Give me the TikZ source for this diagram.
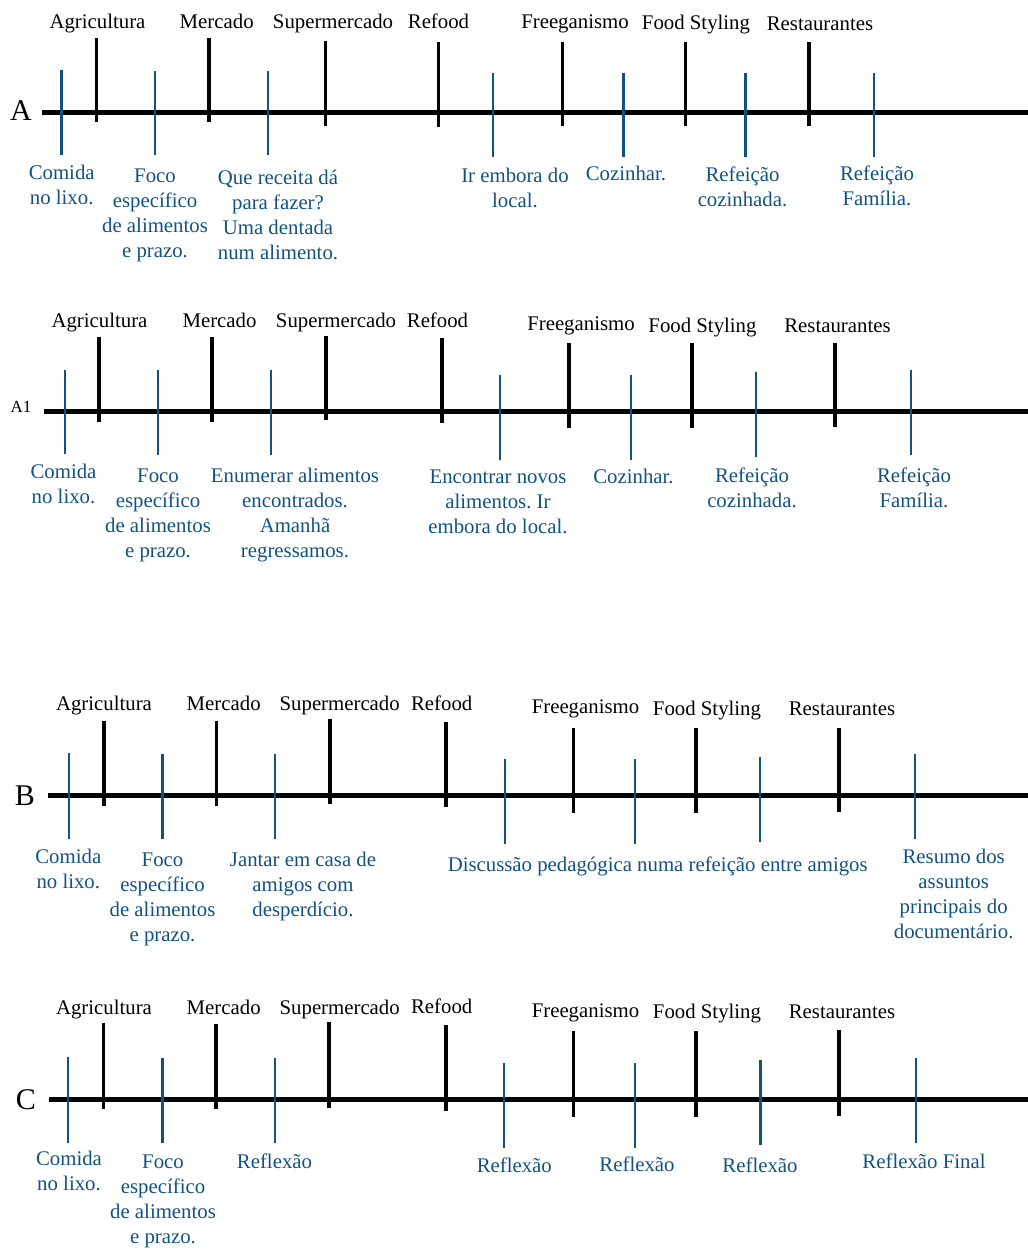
\documentclass[tikz,border=0pt]{standalone}
\usepackage{fontspec}
\setmainfont{Liberation Serif}
\definecolor{tblue}{RGB}{18,82,130}
\frenchspacing
\begin{document}
\begin{tikzpicture}[x=1pt,y=-1pt,
  mainline/.style={line width=5pt,black},
  blacktick/.style={line width=3.1pt,black},
  bluetick/.style={line width=2.9pt,tblue},
  toplab/.style={font=\fontsize{20.8}{25}\selectfont,anchor=base,inner sep=0pt,text=black},
  botlab/.style={font=\fontsize{20.8}{25}\selectfont,anchor=base,inner sep=0pt,text=tblue,align=center},
  rowlab/.style={font=\fontsize{30}{30}\selectfont,anchor=center,inner sep=0pt}]
\useasboundingbox (0,0) rectangle (1028,1251);
% note: for multi-line labels the base anchor is the baseline of the last line

% ===================== A =====================
\node[rowlab] (labA) at (21,111) {A};
\coordinate (A0) at (42,112);
\coordinate (A1e) at (1028,112);
\draw[mainline] (A0) -- (A1e);
\foreach \x/\t/\b in {96.7/38/122, 209/38/122, 325.7/41/126, 438.7/42/127, 562.6/42/126, 685.6/42/126, 809/42/126}
  \draw[blacktick] (\x,\t) -- (\x,\b);
\foreach \x/\t/\b in {61.7/70/155, 155/71/155, 268/71/155, 493/73/157, 623.7/73/157, 745.6/73/157, 874/73/157}
  \draw[bluetick] (\x,\t) -- (\x,\b);
\node[toplab] (a-agr) at (97.5,28) {Agricultura};
\node[toplab] (a-mer) at (216.7,28) {Mercado};
\node[toplab] (a-sup) at (333,28) {Supermercado};
\node[toplab] (a-ref) at (438.5,28) {Refood};
\node[toplab] (a-fre) at (575,28) {Freeganismo};
\node[toplab] (a-fst) at (696,29) {Food Styling};
\node[toplab] (a-res) at (820,30) {Restaurantes};
\node[botlab] (a-b1) at (61.7,204) {Comida\\no lixo.};
\node[botlab] (a-b2) at (155,257) {Foco\\específico\\de alimentos\\e prazo.};
\node[botlab] (a-b3) at (278,259) {Que receita dá\\para fazer?\\Uma dentada\\num alimento.};
\node[botlab] (a-b4) at (515,207) {Ir embora do\\local.};
\node[botlab] (a-b5) at (626,180) {Cozinhar.};
\node[botlab] (a-b6) at (742.5,206) {Refeição\\cozinhada.};
\node[botlab] (a-b7) at (877,205) {Refeição\\Família.};

% ===================== A1 =====================
\node[font=\fontsize{17}{17}\selectfont,anchor=base,inner sep=0pt] (labA1) at (21,412) {A1};
\coordinate (B0) at (44,411);
\coordinate (B1e) at (1028,411);
\draw[mainline] (B0) -- (B1e);
\foreach \x/\t/\b in {99/337/422, 212/337/422, 326/336/420, 442/338/423, 569/343/428, 692/343/428, 835/343/427}
  \draw[blacktick] (\x,\t) -- (\x,\b);
\foreach \x/\t/\b in {65/370/454, 158/370/455, 271/370/455, 500/375/460, 631/375/460, 756/372/457, 911/370/455}
  \draw[bluetick] (\x,\t) -- (\x,\b);
\node[toplab] (b-agr) at (99.5,327) {Agricultura};
\node[toplab] (b-mer) at (219.5,327) {Mercado};
\node[toplab] (b-sup) at (336,327) {Supermercado};
\node[toplab] (b-ref) at (437.5,327) {Refood};
\node[toplab] (b-fre) at (581,330) {Freeganismo};
\node[toplab] (b-fst) at (702.5,332) {Food Styling};
\node[toplab] (b-res) at (837.5,332) {Restaurantes};
\node[botlab] (b-b1) at (63.5,503) {Comida\\no lixo.};
\node[botlab] (b-b2) at (158,557) {Foco\\específico\\de alimentos\\e prazo.};
\node[botlab] (b-b3) at (295,557) {Enumerar alimentos\\encontrados.\\Amanhã\\regressamos.};
\node[botlab] (b-b4) at (498,533) {Encontrar novos\\alimentos. Ir\\embora do local.};
\node[botlab] (b-b5) at (633.5,483) {Cozinhar.};
\node[botlab] (b-b6) at (752,507) {Refeição\\cozinhada.};
\node[botlab] (b-b7) at (914,507) {Refeição\\Família.};

% ===================== B =====================
\node[rowlab] (labB) at (25,796) {B};
\coordinate (C0) at (48,795);
\coordinate (C1e) at (1028,795);
\draw[mainline] (C0) -- (C1e);
\foreach \x/\t/\b in {104/721/806, 216.7/721/806, 330/719/804, 446/722/807, 573.4/728/813, 696/728/813, 839/728/812}
  \draw[blacktick] (\x,\t) -- (\x,\b);
\foreach \x/\t/\b in {69/753/839, 162.7/754/839, 275/754/839, 505/759/844, 635/759/844, 760/757/842, 915/754/839}
  \draw[bluetick] (\x,\t) -- (\x,\b);
\node[toplab] (c-agr) at (104,710) {Agricultura};
\node[toplab] (c-mer) at (223.7,710) {Mercado};
\node[toplab] (c-sup) at (339.7,710) {Supermercado};
\node[toplab] (c-ref) at (441.7,710) {Refood};
\node[toplab] (c-fre) at (585.5,713) {Freeganismo};
\node[toplab] (c-fst) at (707,715) {Food Styling};
\node[toplab] (c-res) at (842,715) {Restaurantes};
\node[botlab] (c-b1) at (68.3,888) {Comida\\no lixo.};
\node[botlab] (c-b2) at (162.5,941) {Foco\\específico\\de alimentos\\e prazo.};
\node[botlab] (c-b3) at (303,916) {Jantar em casa de\\amigos com\\desperdício.};
\node[botlab] (c-b4) at (657.7,871) {Discussão pedagógica numa refeição entre amigos};
\node[botlab] (c-b5) at (953.7,938) {Resumo dos\\assuntos\\principais do\\documentário.};

% ===================== C =====================
\node[rowlab] (labC) at (26,1100) {C};
\coordinate (D0) at (49,1099);
\coordinate (D1e) at (1028,1099);
\draw[mainline] (D0) -- (D1e);
\foreach \x/\t/\b in {103.6/1023/1109, 216/1024/1109, 329/1022/1108, 446/1025/1111, 573.8/1031/1117, 696/1031/1117, 839/1030/1116}
  \draw[blacktick] (\x,\t) -- (\x,\b);
\foreach \x/\t/\b in {68/1057/1143, 162.6/1058/1143, 275/1058/1143, 504/1063/1148, 635/1063/1148, 760.7/1060/1145, 916/1058/1143}
  \draw[bluetick] (\x,\t) -- (\x,\b);
\node[toplab] (d-agr) at (104,1014) {Agricultura};
\node[toplab] (d-mer) at (223.7,1014) {Mercado};
\node[toplab] (d-sup) at (339.7,1014) {Supermercado};
\node[toplab] (d-ref) at (441.7,1013) {Refood};
\node[toplab] (d-fre) at (585.5,1017) {Freeganismo};
\node[toplab] (d-fst) at (707,1018) {Food Styling};
\node[toplab] (d-res) at (842,1018) {Restaurantes};
\node[botlab] (d-b1) at (69,1190) {Comida\\no lixo.};
\node[botlab] (d-b2) at (163,1243) {Foco\\específico\\de alimentos\\e prazo.};
\node[botlab] (d-b3) at (274.5,1168) {Reflexão};
\node[botlab] (d-b4) at (514.3,1172) {Reflexão};
\node[botlab] (d-b5) at (637,1171) {Reflexão};
\node[botlab] (d-b6) at (760,1172) {Reflexão};
\node[botlab] (d-b7) at (924,1168) {Reflexão Final};
\end{tikzpicture}
\end{document}
